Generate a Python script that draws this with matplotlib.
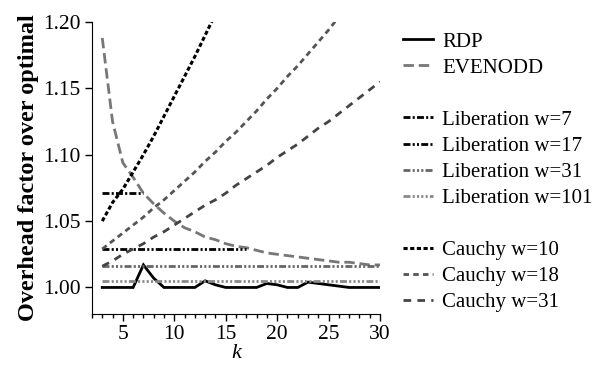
import matplotlib
matplotlib.use("Agg")
import matplotlib.pyplot as plt
from matplotlib.lines import Line2D
from matplotlib.ticker import MultipleLocator

plt.rcParams['font.family'] = ['Liberation Serif', 'DejaVu Serif']
plt.rcParams['lines.scale_dashes'] = False

k = list(range(3, 31))

rdp = [1.000, 1.000, 1.000, 1.000, 1.017, 1.007, 1.000, 1.000, 1.000, 1.000,
       1.005, 1.002, 1.000, 1.000, 1.000, 1.000, 1.003, 1.002, 1.000, 1.000,
       1.004, 1.003, 1.002, 1.001, 1.000, 1.000, 1.000, 1.000]
evenodd = [1.188, 1.125, 1.094, 1.083, 1.071, 1.063, 1.056, 1.050, 1.045, 1.042,
           1.038, 1.036, 1.033, 1.031, 1.030, 1.028, 1.026, 1.025, 1.024, 1.023,
           1.022, 1.021, 1.020, 1.019, 1.019, 1.018, 1.017, 1.017]

lib7_k = [3, 4, 5, 6, 7]
lib7 = [1.071, 1.071, 1.071, 1.071, 1.071]
lib17_k = list(range(3, 18))
lib17 = [1.029] * 15
lib31 = [1.016] * 28
lib101 = [1.005] * 28

cauchy10_k = list(range(3, 16))
cauchy10 = [1.050, 1.064, 1.074, 1.087, 1.100, 1.114, 1.129, 1.144, 1.159, 1.174,
            1.190, 1.206, 1.222]
cauchy18_k = list(range(3, 28))
cauchy18 = [1.029, 1.035, 1.041, 1.047, 1.053, 1.060, 1.066, 1.073, 1.080, 1.087,
            1.095, 1.102, 1.110, 1.117, 1.125, 1.133, 1.142, 1.150, 1.159, 1.167,
            1.176, 1.185, 1.194, 1.204, 1.213]
cauchy31 = [1.016, 1.020, 1.025, 1.029, 1.033, 1.038, 1.042, 1.047, 1.052, 1.057,
            1.062, 1.066, 1.071, 1.077, 1.082, 1.087, 1.092, 1.098, 1.103, 1.108,
            1.114, 1.120, 1.125, 1.131, 1.137, 1.143, 1.149, 1.155]

fig = plt.figure(figsize=(5.98, 3.65), dpi=100)
ax = fig.add_axes([0.1538, 0.1397, 0.4817, 0.8])

ax.plot(k, rdp, color='black', lw=2.0, solid_joinstyle='miter', label='RDP')
ax.plot(k, evenodd, color='#777777', lw=2.0, dashes=(7.5, 3.5), label='EVENODD')
ax.plot(lib7_k, lib7, color='black', lw=2.0, dashes=(5, 1.6, 1.5, 1.6), label='Liberation w=7')
ax.plot(lib17_k, lib17, color='black', lw=2.0, dashes=(5, 1.6, 1.5, 1.6, 1.5, 1.6), label='Liberation w=17')
ax.plot(k, lib31, color='#666666', lw=2.0, dashes=(5, 1.6, 1.5, 1.6, 1.5, 1.6, 1.5, 1.6), label='Liberation w=31')
ax.plot(k, lib101, color='#888888', lw=2.0, dashes=(5, 1.6, 1.5, 1.6, 1.5, 1.6, 1.5, 1.6, 1.5, 1.6), label='Liberation w=101')
ax.plot(cauchy10_k, cauchy10, color='black', lw=2.2, dashes=(3.0, 1.8), label='Cauchy w=10')
ax.plot(cauchy18_k, cauchy18, color='#555555', lw=2.0, dashes=(4.0, 3.0), label='Cauchy w=18')
ax.plot(k, cauchy31, color='#444444', lw=2.0, dashes=(5.5, 4.5), label='Cauchy w=31')

ax.set_xlim(2, 30)
ax.set_ylim(0.98, 1.20)
ax.xaxis.set_major_locator(MultipleLocator(5))
ax.xaxis.set_minor_locator(MultipleLocator(1))
ax.yaxis.set_major_locator(MultipleLocator(0.05))
ax.yaxis.set_major_formatter(plt.FormatStrFormatter('%.2f'))
for s in ['top', 'right']:
    ax.spines[s].set_visible(False)
ax.tick_params(axis='both', which='major', labelsize=15.5, length=5, width=1, pad=3)
ax.tick_params(axis='x', which='minor', length=3, width=1)
ax.set_xlabel('k', fontsize=16, style='italic', labelpad=0)
ax.set_ylabel('Overhead factor over optimal', fontsize=17.5, fontweight='bold', labelpad=3)

handles, labels = ax.get_legend_handles_labels()
blank = Line2D([], [], linestyle='none')
h = handles[:2] + [blank] + handles[2:6] + [blank] + handles[6:]
l = labels[:2] + [''] + labels[2:6] + [''] + labels[6:]
fig.legend(h, l, loc='upper left', bbox_to_anchor=(0.66, 0.935), frameon=False,
           fontsize=15, handlelength=1.45, handletextpad=0.43, labelspacing=0.31,
           borderaxespad=0)

fig.savefig('out.png', dpi=100)
